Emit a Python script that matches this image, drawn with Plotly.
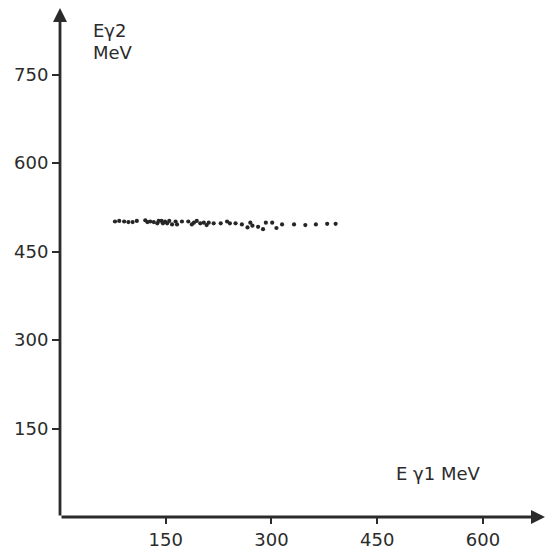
import plotly.graph_objects as go

# Photon energy pairs (MeV): E_gamma1 on x, E_gamma2 on y
e_gamma1 = [78, 84, 91, 97, 103, 109, 121, 124, 128, 133, 138, 140, 144, 146,
            149, 152, 155, 159, 164, 166, 173, 182, 187, 190, 194, 199, 204,
            208, 211, 218, 228, 237, 241, 249, 258, 266, 270, 273, 281, 288,
            292, 301, 307, 315, 332, 348, 363, 379, 391]
e_gamma2 = [501, 502, 501, 500, 500, 502, 503, 500, 501, 500, 498, 502, 502, 498,
            501, 498, 502, 496, 501, 496, 501, 501, 496, 499, 502, 498, 499,
            495, 499, 498, 498, 501, 498, 498, 496, 491, 499, 494, 492, 488,
            499, 499, 490, 496, 496, 495, 496, 497, 497]

x_tick_vals = [150, 300, 450, 600]
x_tick_text = ["150", "300", "450", "600"]
y_tick_vals = [150, 300, 450, 600, 750]
y_tick_text = ["150", "300", "450", "600", "750"]

x_max = 688
y_max = 863

ink = "#2b2b2b"
font = dict(family="DejaVu Sans", size=18, color=ink)

fig = go.Figure()
fig.add_trace(go.Scatter(
    x=e_gamma1, y=e_gamma2, mode="markers",
    marker=dict(size=4.2, color="#262626"),
    hoverinfo="x+y", showlegend=False,
))

axis_common = dict(
    showgrid=False, zeroline=False, showline=False,
    ticks="outside", tickwidth=1.5, tickcolor=ink, tickfont=font,
)
fig.update_xaxes(range=[0, x_max], ticklen=6, tickvals=x_tick_vals,
                 ticktext=x_tick_text, **axis_common)
fig.update_yaxes(range=[0, y_max], ticklen=7, tickvals=y_tick_vals,
                 ticktext=y_tick_text, **axis_common)

annotations = [
    # axes drawn as arrows from the origin
    dict(x=x_max, y=0, ax=0, ay=0, xref="x", yref="y", axref="x", ayref="y",
         showarrow=True, arrowhead=2, arrowsize=1.0, arrowwidth=2.8,
         arrowcolor=ink, text=""),
    dict(x=0, y=y_max, ax=0, ay=0, xref="x", yref="y", axref="x", ayref="y",
         showarrow=True, arrowhead=2, arrowsize=1.0, arrowwidth=2.8,
         arrowcolor=ink, text=""),
    # axis titles
    dict(x=44, y=825, xref="x", yref="y", text="Eγ2", showarrow=False,
         xanchor="left", yanchor="middle", font=font),
    dict(x=44, y=787, xref="x", yref="y", text="MeV", showarrow=False,
         xanchor="left", yanchor="middle", font=font),
    dict(x=474, y=74, xref="x", yref="y", text="E γ1 MeV", showarrow=False,
         xanchor="left", yanchor="middle", font=font),
]

fig.update_layout(
    width=547, height=551,
    margin=dict(l=60, r=2, t=8, b=34),
    paper_bgcolor="white", plot_bgcolor="white",
    annotations=annotations,
)

fig.write_html("out.html")
